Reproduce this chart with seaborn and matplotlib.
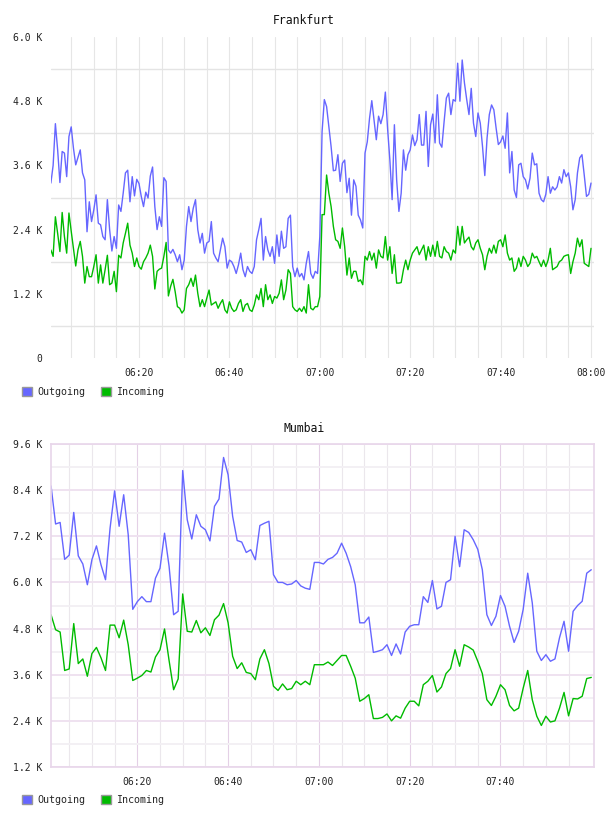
import numpy as np
import pandas as pd
import matplotlib
matplotlib.use("Agg")
import matplotlib.pyplot as plt
import seaborn as sns
from matplotlib.patches import Patch
from matplotlib.ticker import FixedLocator, FuncFormatter

SERIES = ["Outgoing", "Incoming"]
COLORS = {"Outgoing": "#6666ff", "Incoming": "#00bb00"}

# Frankfurt: 30 s samples, 06:00:30 .. 08:00:00, values in thousands
fra_out = [
    3.27, 3.60, 4.38, 3.89, 3.28, 3.86, 3.83, 3.39, 4.14, 4.32,
    3.92, 3.61, 3.75, 3.89, 3.46, 3.33, 2.36, 2.92, 2.55, 2.77,
    3.05, 2.52, 2.49, 2.27, 2.21, 2.96, 2.40, 2.00, 2.27, 2.05,
    2.86, 2.74, 3.08, 3.46, 3.51, 2.92, 3.39, 3.03, 3.34, 3.26,
    3.02, 2.83, 3.10, 2.99, 3.40, 3.57, 2.83, 2.40, 2.64, 2.46,
    3.37, 3.30, 2.02, 1.96, 2.03, 1.93, 1.80, 1.93, 1.65, 1.83,
    2.46, 2.83, 2.55, 2.80, 2.96, 2.40, 2.15, 2.33, 1.96, 2.15,
    2.18, 2.55, 1.96, 1.87, 1.80, 2.02, 2.24, 2.08, 1.68, 1.83,
    1.80, 1.71, 1.58, 1.74, 1.96, 1.65, 1.52, 1.71, 1.62, 1.58,
    1.71, 2.21, 2.40, 2.61, 1.83, 2.27, 2.02, 1.90, 2.08, 1.77,
    2.30, 1.90, 2.37, 2.05, 2.08, 2.61, 2.67, 1.71, 1.52, 1.68,
    1.52, 1.58, 1.46, 1.77, 1.99, 1.58, 1.49, 1.62, 1.58, 2.27,
    4.23, 4.83, 4.70, 4.33, 3.95, 3.50, 3.51, 3.80, 3.30, 3.64,
    3.70, 3.09, 3.36, 2.67, 3.33, 3.21, 2.67, 2.58, 2.43, 3.83,
    4.04, 4.48, 4.81, 4.45, 4.08, 4.52, 4.38, 4.55, 4.97, 4.28,
    3.70, 2.96, 4.36, 3.33, 2.74, 3.08, 3.89, 3.51, 3.80, 3.89,
    4.17, 3.97, 4.08, 4.55, 3.98, 3.98, 4.61, 3.58, 4.36, 4.56,
    4.02, 4.92, 4.02, 3.94, 4.42, 4.86, 4.95, 4.55, 4.83, 4.80,
    5.51, 4.80, 5.57, 5.14, 4.83, 4.55, 5.04, 4.39, 4.14, 4.58,
    4.39, 3.95, 3.41, 4.11, 4.55, 4.73, 4.64, 4.30, 3.99, 4.04,
    4.15, 3.92, 4.58, 3.46, 3.86, 3.14, 3.00, 3.61, 3.64, 3.39,
    3.33, 3.16, 3.36, 3.83, 3.61, 3.63, 3.08, 2.96, 2.92, 3.06,
    3.39, 3.08, 3.20, 3.14, 3.20, 3.39, 3.27, 3.52, 3.39, 3.46,
    3.20, 2.77, 2.96, 3.46, 3.74, 3.80, 3.42, 3.02, 3.06, 3.27,
]
fra_in = [
    2.02, 1.90, 2.64, 2.33, 1.99, 2.72, 2.27, 1.96, 2.71, 2.37,
    2.05, 1.72, 2.02, 2.18, 1.90, 1.40, 1.71, 1.52, 1.52, 1.71,
    1.93, 1.40, 1.74, 1.40, 1.65, 1.92, 1.37, 1.40, 1.62, 1.24,
    1.92, 1.87, 2.15, 2.33, 2.52, 2.11, 1.96, 1.71, 1.87, 1.71,
    1.66, 1.80, 1.87, 1.96, 2.11, 1.90, 1.29, 1.62, 1.66, 1.68,
    1.90, 2.16, 1.16, 1.34, 1.47, 1.24, 0.96, 0.93, 0.84, 0.90,
    1.30, 1.37, 1.49, 1.34, 1.55, 1.21, 0.96, 1.09, 0.96, 1.12,
    1.27, 0.99, 1.02, 1.05, 0.93, 1.02, 1.09, 0.90, 0.84, 1.05,
    0.93, 0.87, 0.90, 1.02, 1.09, 0.87, 0.99, 1.02, 0.90, 0.87,
    0.99, 1.18, 1.09, 1.30, 0.96, 1.37, 1.09, 1.18, 1.02, 1.15,
    1.12, 1.21, 1.46, 1.09, 1.27, 1.65, 1.58, 0.96, 0.90, 0.87,
    0.93, 0.87, 0.96, 0.84, 1.37, 0.93, 0.90, 0.96, 0.96, 1.15,
    2.68, 2.68, 3.42, 3.08, 2.83, 2.46, 2.21, 2.18, 2.05, 2.43,
    2.08, 1.55, 1.87, 1.49, 1.62, 1.62, 1.43, 1.46, 1.37, 1.90,
    1.83, 1.99, 1.83, 1.96, 1.68, 2.02, 1.90, 1.87, 2.27, 1.83,
    2.08, 1.58, 1.93, 1.40, 1.40, 1.41, 1.65, 1.83, 1.65, 1.83,
    1.96, 2.02, 2.08, 1.93, 2.02, 2.11, 1.83, 2.08, 1.90, 2.11,
    1.90, 2.18, 1.90, 1.87, 2.08, 1.99, 1.96, 1.83, 2.02, 1.96,
    2.46, 2.11, 2.46, 2.15, 2.21, 2.26, 2.08, 2.02, 2.15, 2.21,
    2.05, 1.93, 1.65, 1.90, 2.05, 1.96, 2.11, 1.96, 2.18, 2.21,
    2.08, 2.30, 1.96, 1.83, 1.87, 1.62, 1.68, 1.87, 1.71, 1.90,
    1.83, 1.71, 1.77, 1.96, 1.87, 1.90, 1.80, 1.71, 1.83, 1.71,
    1.83, 2.05, 1.65, 1.68, 1.71, 1.80, 1.83, 1.90, 1.92, 1.93,
    1.58, 1.80, 1.96, 2.24, 2.08, 2.21, 1.77, 1.74, 1.71, 2.05,
]

# Mumbai: 1 min samples, 06:01 .. 08:00, values in thousands
mum_out = [
    8.51, 7.52, 7.56, 6.60, 6.71, 7.82, 6.69, 6.48, 5.94, 6.59,
    6.95, 6.46, 6.07, 7.41, 8.38, 7.46, 8.28, 7.24, 5.30, 5.50,
    5.63, 5.50, 5.50, 6.11, 6.37, 7.28, 6.42, 5.16, 5.25, 8.91,
    7.63, 7.13, 7.76, 7.46, 7.37, 7.08, 7.98, 8.17, 9.25, 8.80,
    7.72, 7.09, 7.05, 6.78, 6.85, 6.59, 7.48, 7.54, 7.59, 6.20,
    6.00, 6.00, 5.94, 5.96, 6.05, 5.91, 5.85, 5.82, 6.52, 6.52,
    6.48, 6.60, 6.65, 6.76, 7.02, 6.76, 6.41, 5.94, 4.95, 4.95,
    5.10, 4.18, 4.21, 4.25, 4.38, 4.10, 4.40, 4.14, 4.71, 4.86,
    4.90, 4.90, 5.63, 5.48, 6.05, 5.31, 5.38, 6.00, 6.07, 7.20,
    6.41, 7.37, 7.30, 7.11, 6.86, 6.33, 5.16, 4.88, 5.12, 5.66,
    5.38, 4.86, 4.44, 4.73, 5.30, 6.24, 5.47, 4.21, 3.97, 4.12,
    3.95, 4.01, 4.56, 4.99, 4.21, 5.25, 5.40, 5.51, 6.24, 6.33,
]
mum_in = [
    5.16, 4.77, 4.71, 3.71, 3.75, 4.93, 3.89, 4.01, 3.56, 4.15,
    4.31, 4.04, 3.71, 4.89, 4.89, 4.56, 5.02, 4.38, 3.45, 3.51,
    3.58, 3.71, 3.67, 4.06, 4.25, 4.79, 3.97, 3.21, 3.49, 5.70,
    4.73, 4.71, 5.01, 4.69, 4.82, 4.62, 5.03, 5.15, 5.45, 4.95,
    4.08, 3.76, 3.91, 3.66, 3.63, 3.47, 4.01, 4.25, 3.89, 3.30,
    3.19, 3.36, 3.21, 3.24, 3.43, 3.34, 3.43, 3.34, 3.86, 3.86,
    3.86, 3.93, 3.84, 3.97, 4.10, 4.10, 3.82, 3.51, 2.91, 2.98,
    3.08, 2.46, 2.46, 2.49, 2.58, 2.40, 2.53, 2.47, 2.73, 2.91,
    2.91, 2.79, 3.34, 3.43, 3.58, 3.15, 3.28, 3.63, 3.76, 4.25,
    3.82, 4.38, 4.32, 4.24, 3.95, 3.63, 2.95, 2.80, 3.04, 3.34,
    3.21, 2.80, 2.66, 2.73, 3.25, 3.71, 2.95, 2.52, 2.28, 2.52,
    2.37, 2.40, 2.73, 3.14, 2.53, 2.98, 2.97, 3.04, 3.50, 3.53,
]

# minutes after 06:00
fra_minutes = np.arange(1, len(fra_out) + 1) * 0.5
mum_minutes = np.arange(1, len(mum_out) + 1) * 1.0


def long_frame(minutes, out, inc):
    return pd.DataFrame({
        "minute": np.concatenate([minutes, minutes]),
        "value": list(out) + list(inc),
        "series": ["Outgoing"] * len(out) + ["Incoming"] * len(inc),
    })


def fmt_k(v, pos):
    return "0" if abs(v) < 1e-9 else f"{v:.1f} K"


def fmt_time(v, pos):
    m = int(round(v))
    return f"{6 + m // 60:02d}:{m % 60:02d}"


sns.set_style("white")
plt.rcParams["font.family"] = ["DejaVu Sans Mono", "DejaVu Sans"]

fig = plt.figure(figsize=(6.08, 8.16), dpi=100)
W, H = 608, 816

def add_axes(left, top, right, bottom):
    return fig.add_axes([left / W, 1 - bottom / H, (right - left) / W, (bottom - top) / H])

ax_top = add_axes(51, 37, 594, 358)
ax_bot = add_axes(51, 444, 594, 767)

df_fra = long_frame(fra_minutes, fra_out, fra_in)
df_mum = long_frame(mum_minutes, mum_out, mum_in)

for ax, df in [(ax_top, df_fra), (ax_bot, df_mum)]:
    sns.lineplot(data=df, x="minute", y="value", hue="series", hue_order=SERIES,
                 palette=COLORS, linewidth=1.0, estimator=None, legend=False, ax=ax)
    ax.set_xlabel("")
    ax.set_ylabel("")
    ax.yaxis.set_major_formatter(FuncFormatter(fmt_k))
    ax.xaxis.set_major_formatter(FuncFormatter(fmt_time))
    ax.tick_params(axis="both", which="both", length=0, labelsize=7, colors="#222222")
    ax.tick_params(axis="x", pad=7)
    ax.tick_params(axis="y", pad=6)
    ax.set_axisbelow(True)

# --- Frankfurt ---
ax_top.set_xlim(0.53, 120.66)
ax_top.set_ylim(0, 6.0)
ax_top.yaxis.set_major_locator(FixedLocator([0, 1.2, 2.4, 3.6, 4.8, 6.0]))
ax_top.yaxis.set_minor_locator(FixedLocator([0.6, 1.8, 3.0, 4.2, 5.4]))
ax_top.xaxis.set_major_locator(FixedLocator([20, 40, 60, 80, 100, 120]))
ax_top.xaxis.set_minor_locator(FixedLocator([m for m in range(5, 121, 5) if m % 20]))
ax_top.grid(False)
ax_top.grid(which="minor", axis="y", color="#e4e4e4", linewidth=1.0)
ax_top.grid(which="both", axis="x", color="#e6e6e6", linewidth=0.8)
for s in ax_top.spines.values():
    s.set_visible(False)

# --- Mumbai ---
ax_bot.set_xlim(0.99, 120.6)
ax_bot.set_ylim(1.2, 9.6)
ax_bot.yaxis.set_major_locator(FixedLocator([1.2, 2.4, 3.6, 4.8, 6.0, 7.2, 8.4, 9.6]))
ax_bot.yaxis.set_minor_locator(FixedLocator([1.8, 3.0, 4.2, 5.4, 6.6, 7.8, 9.0]))
ax_bot.xaxis.set_major_locator(FixedLocator([20, 40, 60, 80, 100]))
ax_bot.xaxis.set_minor_locator(FixedLocator([m for m in range(5, 120, 5) if m % 20]))
ax_bot.grid(which="major", axis="y", color="#efe2f0", linewidth=1.4)
ax_bot.grid(which="minor", axis="y", color="#f3f0f4", linewidth=1.4)
ax_bot.grid(which="major", axis="x", color="#e4d0e6", linewidth=0.8)
ax_bot.grid(which="minor", axis="x", color="#ebe7ec", linewidth=0.8)
for s in ax_bot.spines.values():
    s.set_visible(True)
    s.set_color("#e8d6ea")
    s.set_linewidth(1.2)

# titles
fig.text(0.5, 1 - 20 / H, "Frankfurt", ha="center", va="center", fontsize=8.3, color="#111111")
fig.text(0.5, 1 - 428 / H, "Mumbai", ha="center", va="center", fontsize=8.3, color="#111111")

# legends
handles = [Patch(facecolor=COLORS[s], edgecolor="#999999", linewidth=1.0) for s in SERIES]
for y in (392, 800):
    fig.legend(handles, SERIES, loc="center left", bbox_to_anchor=(22 / W, 1 - y / H),
               ncol=2, frameon=False, fontsize=7.2, handlelength=1.0, handleheight=1.0,
               handletextpad=0.5, columnspacing=1.6, borderaxespad=0, borderpad=0)

fig.savefig("out.png", dpi=100)
